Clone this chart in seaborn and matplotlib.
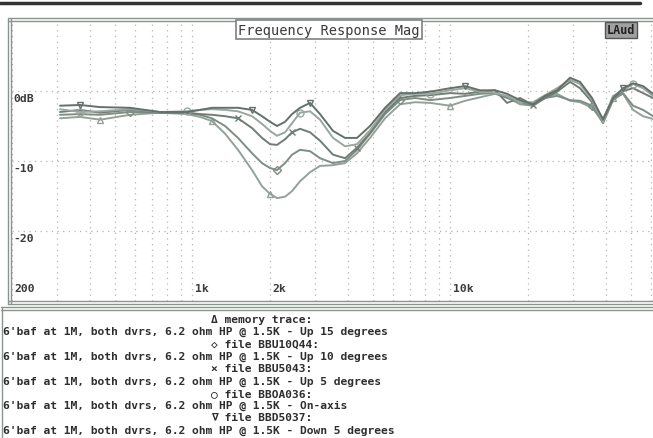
import matplotlib
matplotlib.use("Agg")
import matplotlib.pyplot as plt
import seaborn as sns
import pandas as pd
from matplotlib.lines import Line2D
from matplotlib.ticker import FixedLocator, LogLocator, NullFormatter

# ---------------- data ----------------
freq_hz = [307, 367, 439, 573, 749, 954, 1071, 1192, 1339, 1503, 1704, 1862, 2000,
           2129, 2287, 2434, 2614, 2859, 3125, 3509, 3907, 4348, 4882, 5583, 6384,
           7299, 8345, 9971, 11400, 13030, 14900, 16580, 18620, 20910, 23280, 25910,
           29090, 31810, 35410, 39060, 42710, 46690, 51060, 55830, 61040]

db_up15 = [-3.9, -3.7, -4.1, -3.4, -3.1, -3.3, -3.7, -4.3, -6.1, -8.4, -11.3, -13.6, -14.7,
           -15.3, -15.1, -14.3, -12.9, -11.6, -10.7, -10.6, -10.3, -8.9, -6.7, -3.9, -1.9,
           -1.6, -1.7, -2.1, -1.4, -0.9, -0.4, -0.9, -1.9, -2.1, -0.9, -0.4,
           -1.4, -1.6, -2.4, -4.3, -1.0, -0.4, -2.7, -3.6, -4.0]

db_up10 = [-3.4, -3.3, -3.4, -3.0, -3.1, -3.1, -3.4, -3.9, -5.0, -6.7, -8.9, -10.3, -11.0,
           -11.3, -10.3, -9.1, -8.4, -8.6, -9.6, -10.3, -10.0, -8.4, -6.1, -3.3, -1.3,
           -1.0, -1.3, -1.0, -0.7, -0.4, -0.3, -1.0, -1.6, -2.1, -1.0, -0.7,
           -1.3, -1.4, -2.1, -4.6, -1.3, -0.3, -2.1, -2.7, -3.6]

db_up5 = [-3.0, -2.7, -3.1, -2.7, -3.1, -3.1, -3.3, -3.4, -3.6, -3.9, -5.3, -6.7, -7.6,
          -7.7, -6.9, -5.9, -5.4, -5.9, -7.1, -9.1, -9.6, -8.1, -6.0, -3.0, -1.0,
          -0.7, -0.6, -0.3, -0.4, -0.1, 0.1, -1.7, -1.0, -2.0, -1.0, -0.1,
          1.3, 0.4, -1.6, -4.0, -1.0, 0.0, 0.4, -0.3, -1.0]

db_on_axis = [-2.6, -3.0, -2.9, -2.6, -3.0, -2.9, -2.7, -2.6, -2.7, -2.9, -3.6, -4.7, -5.7,
              -6.4, -5.9, -4.6, -3.1, -2.9, -4.1, -6.7, -7.9, -7.6, -5.6, -2.7, -0.6,
              -0.4, -0.4, 0.1, 0.4, -0.1, -0.3, -0.7, -1.6, -1.6, -0.6, 0.4,
              1.6, 1.0, -1.3, -4.4, -0.7, 0.1, 1.0, 0.4, -0.7]

db_down5 = [-2.1, -2.0, -2.3, -2.4, -3.0, -3.0, -2.7, -2.4, -2.4, -2.4, -2.7, -3.6, -4.4,
            -5.0, -4.4, -3.3, -2.4, -1.7, -3.3, -5.7, -6.7, -6.7, -5.0, -2.4, -0.3,
            -0.3, -0.1, 0.4, 0.7, 0.1, 0.1, -0.4, -1.3, -1.9, -0.7, 0.1,
            1.9, 1.3, -1.0, -4.1, -1.0, 0.4, 1.1, 0.7, -0.4]

trace_names = ["Up 15 degrees", "Up 10 degrees", "Up 5 degrees", "On-axis", "Down 5 degrees"]
trace_values = [db_up15, db_up10, db_up5, db_on_axis, db_down5]
trace_markers = ["^", "D", "x", "o", "v"]
trace_marker_idx = [[2, 7, 12, 27, 40], [3, 13, 24, 38], [9, 15, 21, 33],
                    [1, 5, 16, 26, 42], [1, 10, 17, 28, 41]]
trace_colors = ["#93a199", "#7f8d85", "#6f7d75", "#9aa7a0", "#63716a"]

marker_symbols = ["\u0394", "\u25C7", "\u00D7", "\u25CB", "\u2207"]
file_labels = ["memory trace:", "file BBU10Q44:", "file BBU5043:", "file BBOA036:", "file BBD5037:"]
descriptions = ["6'baf at 1M, both dvrs, 6.2 ohm HP @ 1.5K - Up 15 degrees",
                "6'baf at 1M, both dvrs, 6.2 ohm HP @ 1.5K - Up 10 degrees",
                "6'baf at 1M, both dvrs, 6.2 ohm HP @ 1.5K - Up 5 degrees",
                "6'baf at 1M, both dvrs, 6.2 ohm HP @ 1.5K - On-axis",
                "6'baf at 1M, both dvrs, 6.2 ohm HP @ 1.5K - Down 5 degrees"]

y_ticks = [0, -10, -20]
y_tick_labels = ["0dB", "-10", "-20"]
x_ticks = [200, 1000, 2000, 10000]
x_tick_labels = ["200", "1k", "2k", "10k"]

title_text = "Frequency Response Mag"
badge_text = "LAud"

# ---------------- figure ----------------
sns.set_theme(style="white")
mono = ["DejaVu Sans Mono", "DejaVu Sans"]
plt.rcParams["font.family"] = mono

W, H = 653, 439
fig = plt.figure(figsize=(W / 100, H / 100), dpi=100)
fig.patch.set_facecolor("white")

def fx(px):
    return px / W

def fy(py):
    return 1 - py / H

ax = fig.add_axes([fx(12), fy(302), fx(653) - fx(12), fy(22) - fy(302)])
ax.set_facecolor("white")

rows = []
for name, vals in zip(trace_names, trace_values):
    for f, v in zip(freq_hz, vals):
        rows.append({"freq": f, "db": v, "trace": name})
df = pd.DataFrame(rows)

for name, mk, idx, col in zip(trace_names, trace_markers, trace_marker_idx, trace_colors):
    sub = df[df["trace"] == name]
    sns.lineplot(data=sub, x="freq", y="db", ax=ax, color=col, lw=1.4,
                 marker=mk, markevery=idx, markersize=5 if mk != "D" else 4.2,
                 markerfacecolor="none", markeredgecolor=col, markeredgewidth=1.0,
                 legend=False, estimator=None)

ax.set_xscale("log")
ax.set_xlim(200, 61000)
ax.set_ylim(-30, 10)
ax.xaxis.set_major_locator(FixedLocator([1000, 10000]))
ax.xaxis.set_minor_locator(LogLocator(base=10, subs=range(2, 10)))
ax.xaxis.set_minor_formatter(NullFormatter())
ax.yaxis.set_major_locator(FixedLocator(y_ticks))
ax.tick_params(which="both", length=0, labelbottom=False, labelleft=False)
ax.set_xlabel("")
ax.set_ylabel("")
ax.grid(True, which="both", axis="both", color="#b4b4b4",
        linestyle=(0, (1, 3.5)), linewidth=0.9)
for s in ax.spines.values():
    s.set_visible(False)

lab_kw = dict(fontsize=8.2, fontweight="bold", color="#3a3a3a", family=mono)
for v, t in zip(y_ticks, y_tick_labels):
    ax.text(203, v - 1.0, t, ha="left", va="center", **lab_kw)
for f, t in zip(x_ticks, x_tick_labels):
    ax.text(f * 1.02, -28.1, t, ha="left", va="center", **lab_kw)

# title box and badge
fig.text(fx(329), fy(30.5), title_text, ha="center", va="center", fontsize=9.8,
         color="#3a3a3a", family=mono,
         bbox=dict(boxstyle="square,pad=0.2", fc="white", ec="#808080", lw=1.2))
fig.text(fx(621), fy(31), badge_text, ha="center", va="center", fontsize=8.5,
         fontweight="bold", color="#222222", family=mono,
         bbox=dict(boxstyle="square,pad=0.15", fc="#a0a0a0", ec="#555555", lw=1.0))

# frames
frame_kw = dict(transform=fig.transFigure, color="#8a948e", lw=1.0)
fig.add_artist(Line2D([0, fx(640)], [fy(3.5), fy(3.5)], transform=fig.transFigure,
                      color="#333333", lw=2.5))
for y in (19, 22):
    fig.add_artist(Line2D([fx(8), 1], [fy(y), fy(y)], **frame_kw))
for x in (8, 11):
    fig.add_artist(Line2D([fx(x), fx(x)], [fy(19), fy(305)], **frame_kw))
for y in (302, 305):
    fig.add_artist(Line2D([fx(8), 1], [fy(y), fy(y)], **frame_kw))
for y in (308, 311):
    fig.add_artist(Line2D([fx(1), 1], [fy(y), fy(y)], **frame_kw))
fig.add_artist(Line2D([fx(1.5), fx(1.5)], [fy(308), 0], **frame_kw))

# lower text panel
txt_kw = dict(fontsize=8.1, fontweight="bold", color="#2e2e2e", family=mono, va="center")
for i in range(5):
    y0 = 320 + 12.3 * (2 * i)
    y1 = 320 + 12.3 * (2 * i + 1)
    fig.text(fx(211), fy(y0), marker_symbols[i] + " " + file_labels[i], ha="left", **txt_kw)
    fig.text(fx(3), fy(y1), descriptions[i], ha="left", **txt_kw)

fig.savefig("out.png", dpi=100, facecolor="white")
